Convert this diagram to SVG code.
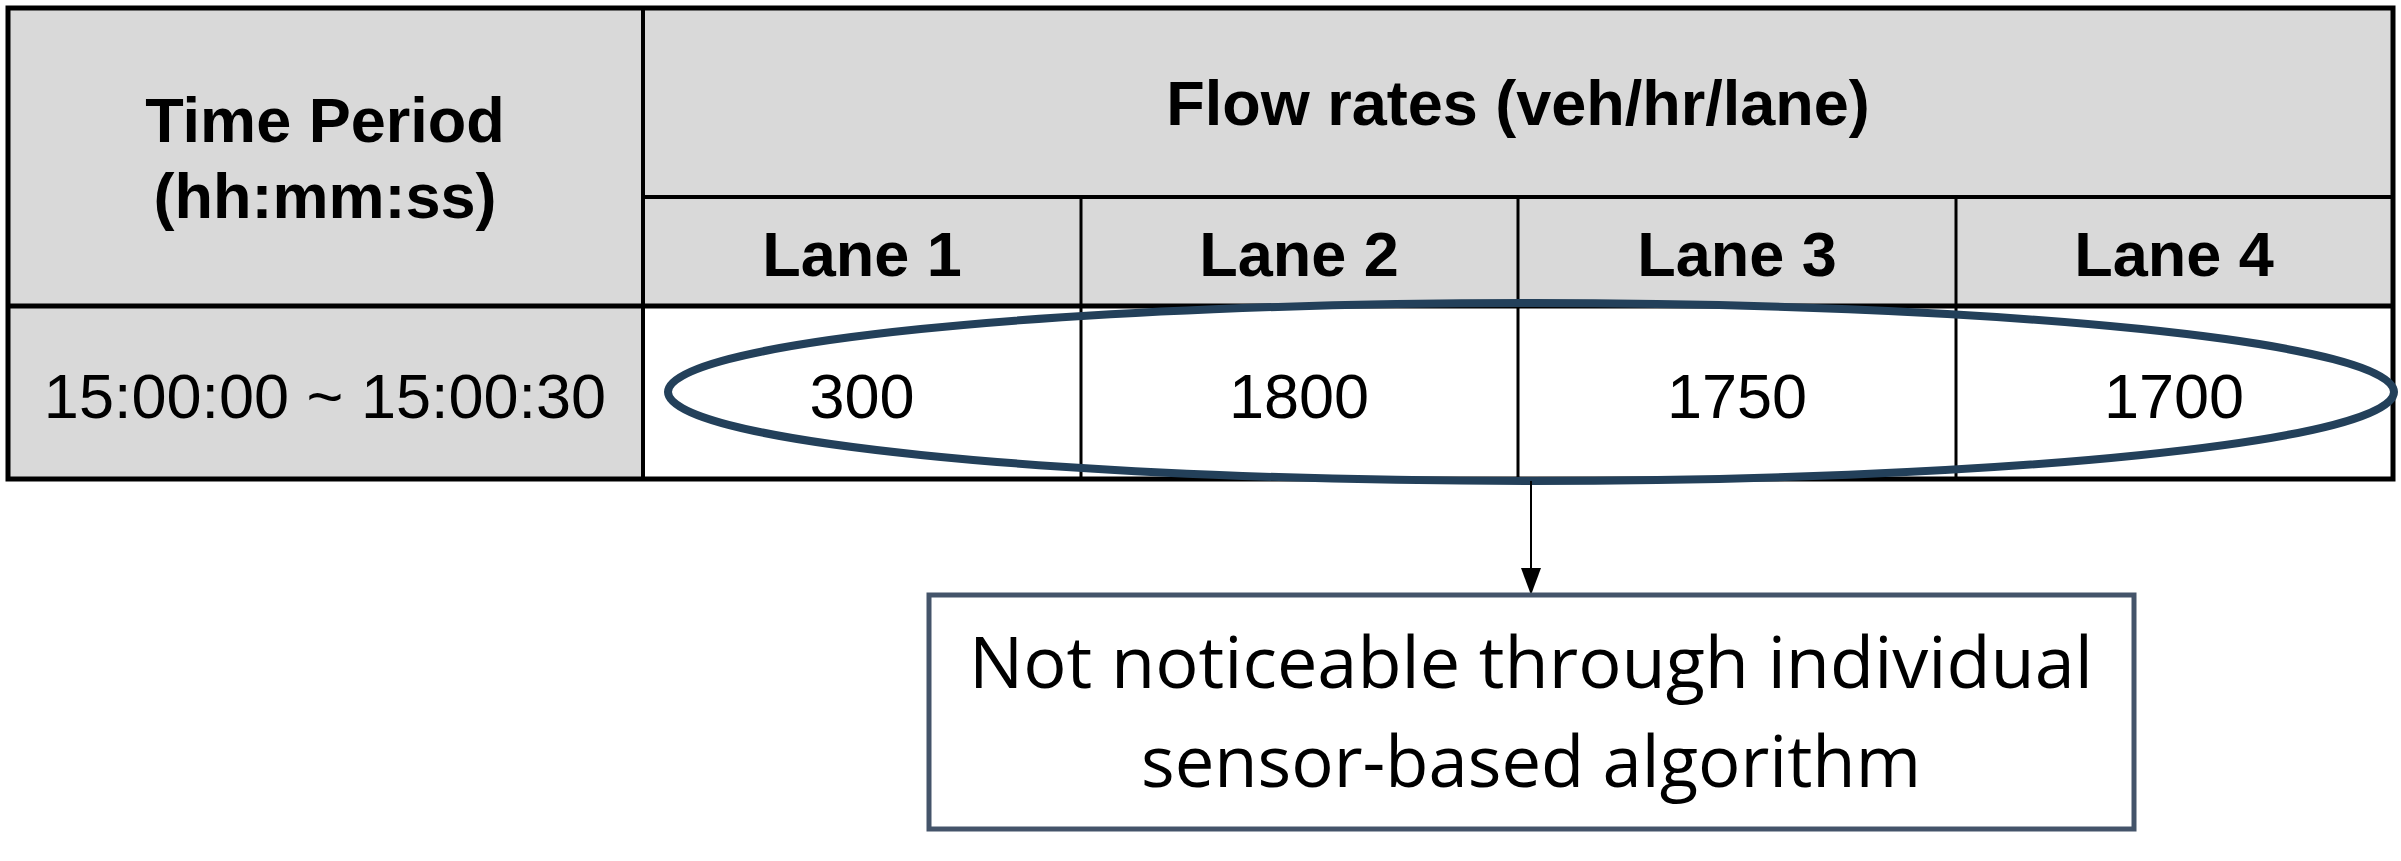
<svg xmlns="http://www.w3.org/2000/svg" width="2401" height="861" viewBox="0 0 2401 861">
<style>
.hd{font-family:"Liberation Sans",Arial,sans-serif;font-weight:bold;font-size:63px;fill:#000;text-anchor:middle}
.vl{font-family:"Liberation Sans",Arial,sans-serif;font-size:63px;fill:#000;text-anchor:middle}
.bx{font-family:"Open Sans","Noto Sans",sans-serif;font-size:71px;fill:#000;text-anchor:middle}
.ln{stroke:#000;fill:none}
</style>
<rect width="2401" height="861" fill="#fff"/>
<g id="table">
<rect x="8" y="8" width="2385" height="298" fill="#D9D9D9"/>
<rect x="8" y="306" width="635" height="173" fill="#D9D9D9"/>
<rect x="643" y="306" width="1750" height="173" fill="#fff"/>
<line class="ln" x1="643" y1="8" x2="643" y2="479" stroke-width="4"/>
<line class="ln" x1="643" y1="197" x2="2393" y2="197" stroke-width="4"/>
<line class="ln" x1="8" y1="306" x2="2393" y2="306" stroke-width="5"/>
<line class="ln" x1="1081" y1="197" x2="1081" y2="479" stroke-width="3"/>
<line class="ln" x1="1518" y1="197" x2="1518" y2="479" stroke-width="3"/>
<line class="ln" x1="1956" y1="197" x2="1956" y2="479" stroke-width="3"/>
<rect class="ln" x="8" y="8" width="2385" height="471" stroke-width="5"/>
<text class="hd" x="325" y="142">Time Period</text>
<text class="hd" x="325" y="218">(hh:mm:ss)</text>
<text class="hd" x="1518" y="125">Flow rates (veh/hr/lane)</text>
<text class="hd" x="862" y="276">Lane 1</text>
<text class="hd" x="1299" y="276">Lane 2</text>
<text class="hd" x="1737" y="276">Lane 3</text>
<text class="hd" x="2174" y="276">Lane 4</text>
<text class="vl" x="325" y="418">15:00:00 ~ 15:00:30</text>
<text class="vl" x="862" y="418">300</text>
<text class="vl" x="1299" y="418">1800</text>
<text class="vl" x="1737" y="418">1750</text>
<text class="vl" x="2174" y="418">1700</text>
</g>
<g id="highlight">
<ellipse cx="1531" cy="392" rx="863" ry="89" fill="none" stroke="#23405A" stroke-width="8"/>
</g>
<g id="connectors">
<line x1="1531" y1="481" x2="1531" y2="570" stroke="#000" stroke-width="2"/>
<polygon points="1521,568 1541,568 1531,595" fill="#000"/>
</g>
<g id="note">
<rect x="929" y="595" width="1205" height="234" fill="#fff" stroke="#44546A" stroke-width="5"/>
<text class="bx" x="1531" y="688" textLength="1124" lengthAdjust="spacingAndGlyphs">Not noticeable through individual</text>
<text class="bx" x="1531" y="787" textLength="780" lengthAdjust="spacingAndGlyphs">sensor-based algorithm</text>
</g>
</svg>
